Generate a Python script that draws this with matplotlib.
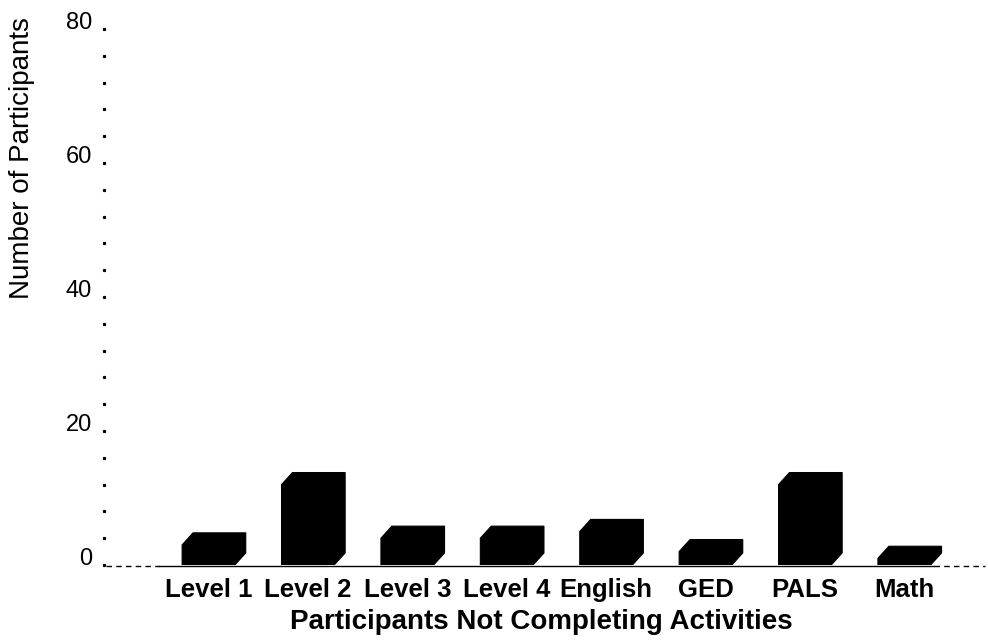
import matplotlib
matplotlib.use("Agg")
import matplotlib.pyplot as plt
from matplotlib.patches import Polygon

activities = ["Level 1", "Level 2", "Level 3", "Level 4", "English", "GED", "PALS", "Math"]
participants = [3, 12, 4, 4, 5, 2, 12, 1]

y_ticks = [0, 20, 40, 60, 80]


def draw_block(ax, x, val, width=0.53, dx=0.11, dy=1.8):
	# solid black column with a little depth pushed up/right
	x0 = x - width / 2
	x1 = x + width / 2
	pts = [(x0, 0), (x0, val), (x0 + dx, val + dy), (x1 + dx, val + dy),
		(x1 + dx, dy), (x1, 0)]
	ax.add_patch(Polygon(pts, closed=True, facecolor="black", edgecolor="black", lw=0.8))


def main():
	plt.rcParams['font.family'] = ['Liberation Sans', 'DejaVu Sans']

	fig = plt.figure(figsize=(9.88, 6.4), dpi=100)
	ax = fig.add_axes([104 / 988, 1 - 565 / 640, 881 / 988, 536 / 640])

	xs = list(range(len(activities)))
	for x, v in zip(xs, participants):
		draw_block(ax, x, v)

	left, right = -1.051, 7.812
	ax.set_xlim(left, right)
	ax.set_ylim(0, 80)

	# floor line, broken at the ends
	ax.plot([left + 0.02, -0.5], [-0.15, -0.15], color="black", lw=1.0, ls=(0, (4, 3)), clip_on=False)
	ax.plot([-0.5, 7.3], [-0.15, -0.15], color="black", lw=1.0, clip_on=False)
	ax.plot([7.3, right], [-0.15, -0.15], color="black", lw=1.0, ls=(0, (4, 3)), clip_on=False)

	# dotted value axis
	dots = list(range(0, 81, 4))
	ax.plot([left] * len(dots), dots, ls="none", marker="s", ms=1.3, color="black", clip_on=False)

	for t in y_ticks:
		ax.annotate(str(t), xy=(0, t), xycoords=('axes fraction', 'data'),
			xytext=(-8.5, 4), textcoords='offset points',
			ha='right', va='center', fontsize=17)

	ax.set_yticks([])
	ax.set_xticks(xs)
	ax.set_xticklabels(activities, fontsize=18.5, fontweight='bold', va='baseline')
	ax.tick_params(axis='x', length=0, pad=23)
	for s in ax.spines.values():
		s.set_visible(False)

	fig.text(541 / 988, 1 - 622 / 640, "Participants Not Completing Activities",
		ha='center', va='center', fontsize=20, fontweight='bold')
	fig.text(22 / 988, 1 - 158 / 640, "Number of Participants",
		ha='center', va='center', rotation=90, fontsize=20)

	fig.savefig("out.png", dpi=100)


if __name__ == "__main__":
	main()
